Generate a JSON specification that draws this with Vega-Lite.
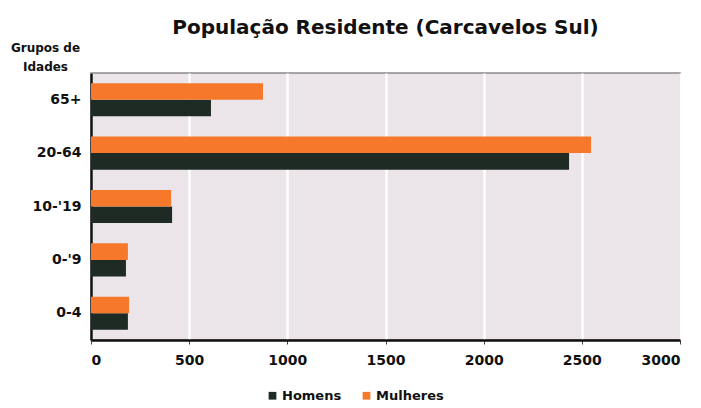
{
  "$schema": "https://vega.github.io/schema/vega-lite/v6.json",
  "width": 589,
  "height": 267,
  "autosize": {"type": "none"},
  "padding": {"left": 91, "top": 73, "right": 21, "bottom": 68},
  "background": "white",
  "title": {
    "text": "População Residente (Carcavelos Sul)",
    "font": "DejaVu Sans",
    "fontSize": 20,
    "fontWeight": "bold",
    "color": "#111111",
    "anchor": "middle",
    "offset": 3
  },
  "data": {
    "values": [
      {"grupo": "65+", "sexo": "Homens", "valor": 611},
      {"grupo": "65+", "sexo": "Mulheres", "valor": 876},
      {"grupo": "20-64", "sexo": "Homens", "valor": 2435},
      {"grupo": "20-64", "sexo": "Mulheres", "valor": 2547},
      {"grupo": "10-'19", "sexo": "Homens", "valor": 413},
      {"grupo": "10-'19", "sexo": "Mulheres", "valor": 408},
      {"grupo": "0-'9", "sexo": "Homens", "valor": 178},
      {"grupo": "0-'9", "sexo": "Mulheres", "valor": 188},
      {"grupo": "0-4", "sexo": "Homens", "valor": 188},
      {"grupo": "0-4", "sexo": "Mulheres", "valor": 194}
    ]
  },
  "mark": {"type": "bar"},
  "encoding": {
    "y": {
      "field": "grupo",
      "type": "nominal",
      "sort": ["65+", "20-64", "10-'19", "0-'9", "0-4"],
      "scale": {"paddingInner": 0.38, "paddingOuter": 0.19},
      "axis": {
        "title": ["Grupos de", "Idades"],
        "titleAngle": 0,
        "titleAlign": "center",
        "titleBaseline": "alphabetic",
        "titleX": -46,
        "titleY": -22,
        "titleFont": "DejaVu Sans",
        "titleFontSize": 12,
        "titleFontWeight": "bold",
        "titleColor": "#111111",
        "titleLineHeight": 19,
        "labelFont": "DejaVu Sans",
        "labelFontSize": 14,
        "labelFontWeight": "bold",
        "labelColor": "#111111",
        "labelPadding": 10,
        "ticks": false,
        "domainColor": "#111111",
        "domainWidth": 2.5,
        "grid": false
      }
    },
    "yOffset": {
      "field": "sexo",
      "type": "nominal",
      "sort": ["Mulheres", "Homens"]
    },
    "x": {
      "field": "valor",
      "type": "quantitative",
      "scale": {"domain": [0, 3000], "nice": false},
      "axis": {
        "title": null,
        "format": "d",
        "values": [0, 500, 1000, 1500, 2000, 2500, 3000],
        "labelFont": "DejaVu Sans",
        "labelFontSize": 14,
        "labelFontWeight": "bold",
        "labelColor": "#111111",
        "labelPadding": 9,
        "tickSize": 4,
        "tickColor": "#444444",
        "domainColor": "#111111",
        "domainWidth": 2.5,
        "gridColor": "#ffffff",
        "gridWidth": 2.5,
        "gridOpacity": 1
      }
    },
    "color": {
      "field": "sexo",
      "type": "nominal",
      "sort": ["Homens", "Mulheres"],
      "scale": {"domain": ["Homens", "Mulheres"], "range": ["#1e2b24", "#f5782b"]},
      "legend": {
        "title": null,
        "orient": "none",
        "direction": "horizontal",
        "legendX": 175,
        "legendY": 316,
        "symbolType": "square",
        "symbolSize": 60,
        "symbolStrokeWidth": 0,
        "labelFont": "DejaVu Sans",
        "labelFontSize": 13,
        "labelFontWeight": "bold",
        "labelColor": "#111111",
        "labelOffset": 3,
        "columnPadding": 18
      }
    }
  },
  "config": {
    "view": {"fill": "#ebe5ea", "stroke": "#8a8a8a", "strokeWidth": 1.5}
  }
}
